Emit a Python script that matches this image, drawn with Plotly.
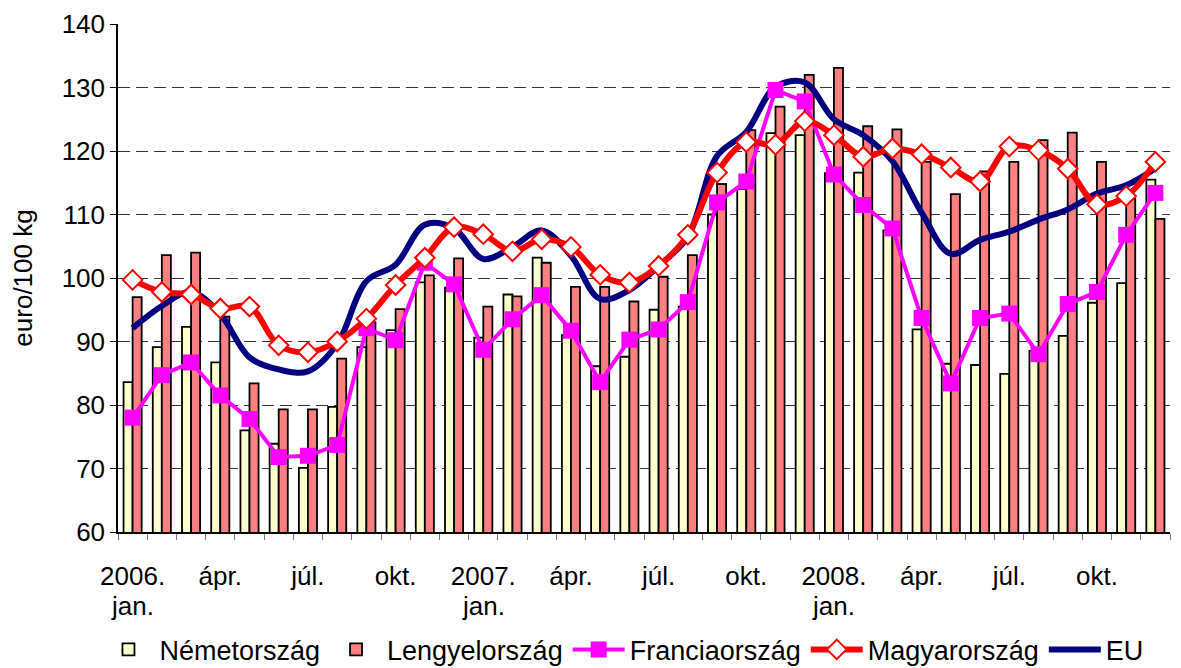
import plotly.graph_objects as go

months = [f"{y}-{m:02d}" for y in (2006, 2007, 2008) for m in range(1, 13)]
tick_labels = {"2006-01": "2006.", "2006-04": "ápr.", "2006-07": "júl.", "2006-10": "okt.",
               "2007-01": "2007.", "2007-04": "ápr.", "2007-07": "júl.", "2007-10": "okt.",
               "2008-01": "2008.", "2008-04": "ápr.", "2008-07": "júl.", "2008-10": "okt."}
year_second_line = {"2006-01": "jan.", "2007-01": "jan.", "2008-01": "jan."}

nemet = [83.6, 89.1, 92.3, 86.7, 76.0, 73.9, 70.1, 79.7, 89.1, 91.8, 99.3, 98.5,
         90.6, 97.4, 103.2, 91.0, 86.1, 87.6, 95.0, 95.5, 110.0, 114.0, 122.8, 122.5,
         116.5, 116.6, 107.5, 91.9, 86.5, 86.3, 84.9, 88.5, 90.9, 96.1, 99.2, 115.5]
lengyel = [97.0, 103.6, 104.0, 93.9, 83.4, 79.3, 79.3, 87.3, 93.0, 95.1, 100.4, 103.1,
           95.5, 97.1, 102.4, 98.6, 98.6, 96.3, 100.2, 103.6, 114.8, 123.3, 127.0, 132.0,
           133.1, 123.9, 123.4, 118.3, 113.2, 116.8, 118.3, 121.7, 122.9, 118.3, 112.5, 109.3]
francia = [78.0, 84.7, 86.7, 81.5, 77.8, 71.8, 72.0, 73.7, 92.1, 90.2, 102.4, 99.0,
           88.7, 93.5, 97.3, 91.7, 83.6, 90.3, 91.9, 96.2, 111.9, 115.2, 129.6, 127.8,
           116.3, 111.5, 107.8, 93.7, 83.4, 93.7, 94.4, 88.0, 95.9, 97.8, 106.8, 113.4]
magyar = [99.7, 97.8, 97.4, 95.2, 95.5, 89.4, 88.3, 90.0, 93.6, 98.9, 103.2, 108.0,
          106.9, 104.2, 106.1, 104.9, 100.5, 99.3, 101.9, 106.8, 116.6, 121.4, 121.0, 124.7,
          122.5, 119.1, 120.4, 119.5, 117.4, 115.2, 120.7, 120.1, 117.2, 111.6, 112.9, 118.3]
eu = [92.1, 95.6, 97.8, 94.3, 87.5, 85.6, 85.3, 89.6, 99.5, 102.1, 108.4, 107.8,
      103.0, 104.9, 107.5, 103.5, 96.7, 98.1, 101.9, 106.5, 119.2, 123.0, 130.1, 130.8,
      125.0, 122.5, 118.4, 110.3, 103.8, 106.0, 107.3, 109.2, 110.8, 113.3, 114.6, 117.3]

FONT = "Arial, Liberation Sans, sans-serif"
FS = 26

fig = go.Figure()
fig.add_trace(go.Bar(x=months, y=nemet, name="Németország", legendrank=1,
                     marker=dict(color="#FFFFCC", line=dict(color="black", width=1.8))))
fig.add_trace(go.Bar(x=months, y=lengyel, name="Lengyelország", legendrank=2,
                     marker=dict(color="#FF8080", line=dict(color="black", width=1.8))))
fig.add_trace(go.Scatter(x=months, y=eu, name="EU", legendrank=5, mode="lines",
                         line=dict(color="#000080", width=6, shape="spline", smoothing=1)))
fig.add_trace(go.Scatter(x=months, y=francia, name="Franciaország", legendrank=3, mode="lines+markers",
                         line=dict(color="#FF00FF", width=4),
                         marker=dict(symbol="square", size=16, color="#FF00FF")))
fig.add_trace(go.Scatter(x=months, y=magyar, name="Magyarország", legendrank=4, mode="lines+markers",
                         line=dict(color="#FF0000", width=6, shape="spline", smoothing=1),
                         marker=dict(symbol="diamond", size=15, color="white",
                                     line=dict(color="#FF0000", width=2))))

for m, txt in year_second_line.items():
    fig.add_annotation(x=m, xref="x", y=0, yref="paper", yanchor="middle", yshift=-74, text=txt,
                       showarrow=False, font=dict(family=FONT, size=FS, color="black"))

# the page body adds an 8px offset, so the figure is 8px smaller and margins shifted
fig.update_layout(
    width=1173, height=660,
    margin=dict(l=110, r=11, t=16, b=136, autoexpand=False),
    paper_bgcolor="white", plot_bgcolor="white",
    font=dict(family=FONT, size=FS, color="black"),
    barmode="group", bargap=0.38, bargroupgap=0,
    showlegend=True,
    legend=dict(orientation="h", x=0.48, xanchor="center", y=-0.232, yanchor="middle",
                font=dict(size=27), itemwidth=52, tracegroupgap=0),
)
fig.update_xaxes(type="category", categoryorder="array", categoryarray=months,
                 range=[-0.5, 35.5], automargin=False,
                 tickmode="array", tickvals=months,
                 ticktext=[tick_labels.get(m, "") for m in months],
                 tickson="boundaries", ticks="outside", ticklen=6, tickcolor="#777",
                 ticklabelstandoff=20,
                 showline=True, linecolor="black", linewidth=1.5,
                 showgrid=False, tickfont=dict(size=FS), tickangle=0)
fig.update_yaxes(range=[60, 140], dtick=10, ticks="outside", ticklen=6, tickcolor="black",
                 automargin=False,
                 showline=True, linecolor="black", linewidth=1.5,
                 showgrid=True, gridcolor="#333", griddash="12px,6px", gridwidth=1,
                 zeroline=False, tickfont=dict(size=FS),
                 title=dict(text="euro/100 kg", font=dict(size=FS), standoff=24))

fig.write_html("out.html")
